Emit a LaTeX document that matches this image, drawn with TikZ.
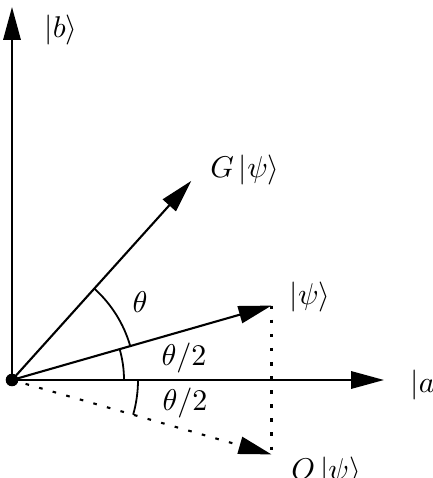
\documentclass[tikz,border=0pt]{standalone}
\usetikzlibrary{arrows.meta}
\begin{document}
\begin{tikzpicture}[x=0.3333pt,y=0.3333pt,
  vec/.style={line width=0.7pt,-{Triangle[length=11pt,width=5.8pt]}},
  dotline/.style={line width=0.8pt,dash pattern=on 1.2pt off 3.5pt},
  anglearc/.style={line width=0.6pt},
  lbl/.style={inner sep=0pt}]
\useasboundingbox (0,0) rectangle (432,478);
% origin and tips
\node[circle,fill,inner sep=0pt,minimum size=4.2pt] (o) at (12,98) {};
\coordinate (btip) at (12,471);
\coordinate (atip) at (384,98);
\coordinate (psi) at ([shift={(16:270)}]o.center);
\coordinate (gpsi) at ([shift={(48:268)}]o.center);
\coordinate (opsi) at ([shift={(-16:270)}]o.center);
% axes
\draw[vec] (o.center) -- (btip);
\draw[vec] (o.center) -- (atip);
% vectors
\draw[vec] (o.center) -- (psi);
\draw[vec] (o.center) -- (gpsi);
\draw[vec,dash pattern=on 1.2pt off 3.5pt] (o.center) -- (opsi);
\draw[dotline] (psi) -- (opsi);
% angle arcs
\draw[anglearc] ([shift={(16:123)}]o.center) arc[start angle=16,end angle=48,radius=123];
\draw[anglearc] ([shift={(0:112)}]o.center) arc[start angle=0,end angle=16,radius=112];
\draw[anglearc] ([shift={(-16:126)}]o.center) arc[start angle=-16,end angle=0,radius=126];
% labels
\node[lbl] (lb) at (61,448) {$\left|b\right\rangle$};
\node[lbl] (lg) at (245,308) {$G\left|\psi\right\rangle$};
\node[lbl] (lpsi) at (310,181) {$\left|\psi\right\rangle$};
\node[lbl] (lth) at (140,176) {$\theta$};
\node[lbl] (lth1) at (184,120) {$\theta/2$};
\node[lbl] (lth2) at (185,75) {$\theta/2$};
\node[lbl] (lo) at (326,6) {$O\left|\psi\right\rangle$};
\node[lbl,anchor=west] (la) at (410,93) {$\left|a\right\rangle$};
\end{tikzpicture}
\end{document}
